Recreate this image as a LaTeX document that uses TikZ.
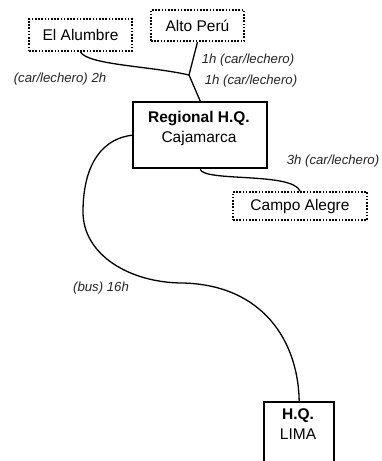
\documentclass[tikz,border=0pt]{standalone}
\usepackage{fontspec}
\setmainfont{Liberation Sans}
\begin{document}
\begin{tikzpicture}[x=1pt,y=-1pt,
  place/.style={draw, line width=2pt, dash pattern=on 1.6pt off 1.6pt, rectangle, inner sep=0pt, anchor=north west, font=\fontsize{15.5}{18}\selectfont},
  hqbox/.style={draw, line width=2.4pt, rectangle, inner sep=0pt, anchor=north west},
  hqtext/.style={align=center, font=\fontsize{15.5}{20}\selectfont, inner sep=0pt, anchor=north},
  lbl/.style={font=\fontsize{13.2}{15}\selectfont\itshape, inner sep=0pt, text=black!85},
  road/.style={line width=1.3pt}]
\useasboundingbox (0,0) rectangle (381,461);
% places
\node[place, minimum width=103pt, minimum height=32pt] (alum) at (28,18) {El Alumbre};
\node[place, minimum width=93pt, minimum height=31pt] (alto) at (150,9) {Alto Perú};
\node[place, minimum width=134pt, minimum height=28pt] (campo) at (232,191) {Campo Alegre};
% head quarters
\node[hqbox, minimum width=134pt, minimum height=66pt] (reg) at (132,101) {};
\node[hqtext] (regt) at (199,111) {\textbf{Regional H.Q.}\\Cajamarca};
\node[hqbox, minimum width=70pt, minimum height=80pt] (lima) at (263,401) {};
\node[hqtext] (limat) at (298,408) {\textbf{H.Q.}\\LIMA};
% connectors
\coordinate (j) at (189,75);
\coordinate (w1) at (83,212);
\coordinate (w2) at (183,283);
\draw[road] (alum.south) .. controls (88,65) and (150,66) .. (j);
\draw[road] (alto.south) -- (j) -- (reg.north);
\draw[road] (reg.south) .. controls (205,182) and (292,172) .. (campo.north);
\draw[road] (reg.west) .. controls (95,140) and (83,175) .. (w1)
  .. controls (83,255) and (130,283) .. (w2)
  .. controls (262,285) and (298,340) .. (lima.north);
% labels
\node[lbl] (l1) at (248,60) {1h (car/lechero)};
\node[lbl] (l2) at (60,79) {(car/lechero) 2h};
\node[lbl] (l3) at (251,81) {1h (car/lechero)};
\node[lbl] (l4) at (333,161) {3h (car/lechero)};
\node[lbl] (l5) at (101,288) {(bus) 16h};
\end{tikzpicture}
\end{document}
